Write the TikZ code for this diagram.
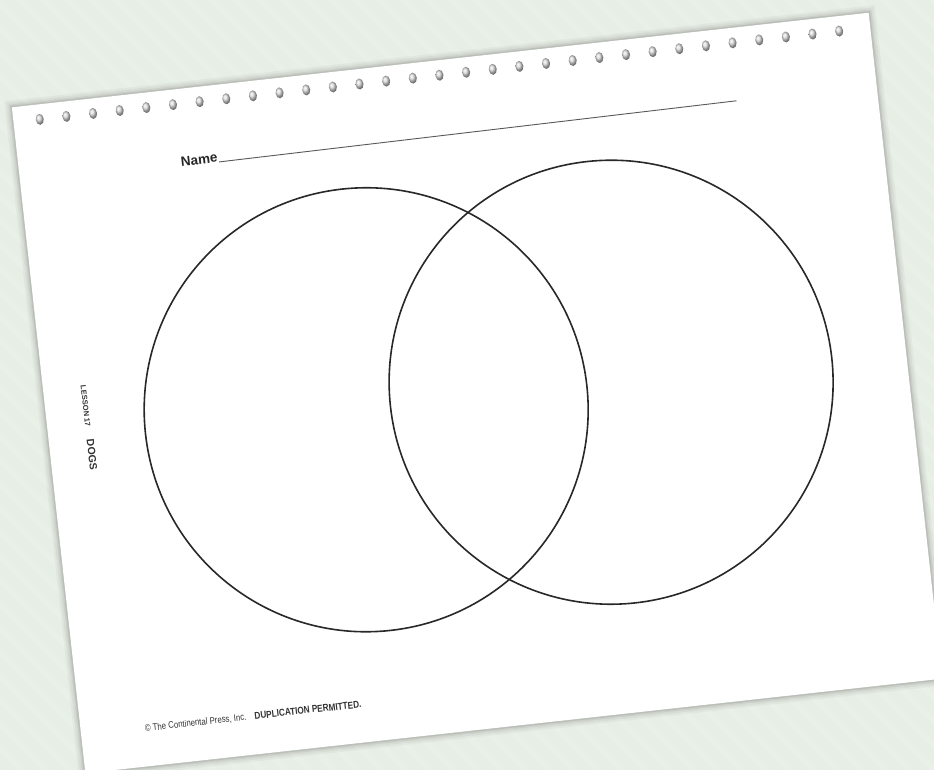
\documentclass[tikz,border=0pt]{standalone}
\usepackage{fontspec}
\setmainfont{Liberation Sans}
\newfontfamily\condfont[FakeStretch=0.82]{Liberation Sans}
\usetikzlibrary{positioning}

\definecolor{bgtint}{RGB}{231,238,229}
\definecolor{inkline}{RGB}{40,40,40}

\begin{document}
\begin{tikzpicture}[x=1pt,y=-1pt,
 ring/.style={draw=inkline,line width=1.6pt,circle,minimum size=444pt,inner sep=0pt},
 namelbl/.style={font=\fontsize{13.5}{13.5}\selectfont\bfseries,inner sep=1pt,text=black!85},
 foot/.style={font=\condfont\fontsize{9.5}{9.5}\selectfont,inner sep=0pt,text=black!80},
 hole/.style={ball color=gray!30}]
\useasboundingbox (0,0) rectangle (934,770);
\clip (0,0) rectangle (934,770);
\fill[bgtint] (0,0) rectangle (934,770);
% faint diagonal stripes
\foreach \s in {-800,-776,...,934}
 \fill[white,opacity=.12] (\s,0) -- ++(9,0) -- ++(770,770) -- ++(-9,0) -- cycle;

\begin{scope}[shift={(477,393)},rotate=6.3,transform shape]
% shadow and sheet
\foreach \d/\o in {7/.03,5/.04,3/.06,1.5/.08}
 \fill[black,opacity=\o] (-431-\d,-335-\d) rectangle (431+\d,335+\d);
\fill[white] (-431,-335) rectangle (431,335);
% binder holes
\foreach \k in {0,...,30}
 \shade[hole] ({-404.6+26.81*\k},-320) ellipse (4 and 5.5);

\node[namelbl,anchor=base east] (name) at (-231,-258) {Name};
\coordinate (nameend) at (290,-262);
\draw[black!65,line width=0.9pt] (name.base east) -- (nameend);

\node[ring] (lcircle) at (-112,4.5) {};
\node[ring] (rcircle) at (134.5,4) {};

\node[rotate=-90,inner sep=0pt,text=black!80] (lesson) at (-389.5,-8)
 {{\fontsize{7.5}{7.5}\selectfont\bfseries LESSON 17}\hspace{13pt}{\fontsize{10.5}{10.5}\selectfont\bfseries DOGS}};

\node[foot,anchor=base west] (copy) at (-367,300) {© The Continental Press, Inc.};
\node[foot,font=\condfont\fontsize{10}{10}\selectfont\bfseries,base right=8pt of copy] (dup) {DUPLICATION PERMITTED.};
\end{scope}
\end{tikzpicture}
\end{document}
